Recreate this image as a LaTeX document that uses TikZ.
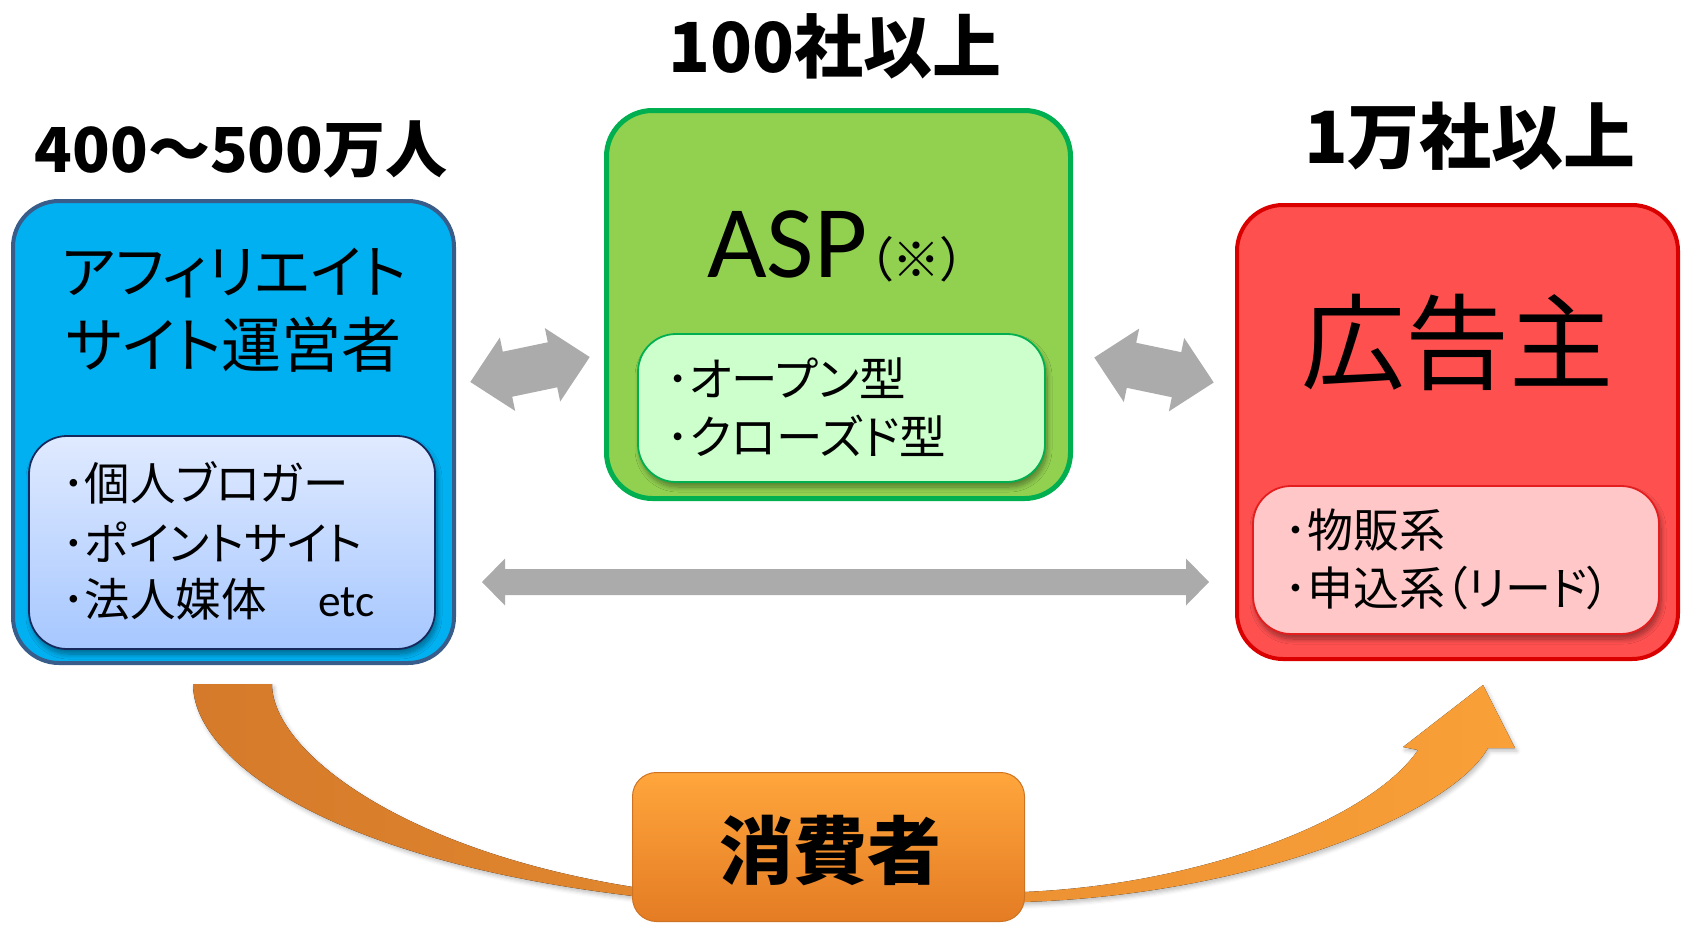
\documentclass[tikz,border=0pt]{standalone}
\usepackage{fontspec}
\setmainfont{Carlito}
\newfontfamily\jp[RawFeature=+palt]{Noto Sans CJK JP}
\usetikzlibrary{shadows.blur}
\definecolor{bluefill}{RGB}{0,176,240}
\definecolor{blueline}{RGB}{56,93,138}
\definecolor{blueinT}{RGB}{224,234,255}
\definecolor{blueinB}{RGB}{166,199,255}
\definecolor{bluein}{RGB}{22,40,92}
\definecolor{greenfill}{RGB}{146,208,80}
\definecolor{greenline}{RGB}{0,176,80}
\definecolor{greenin}{RGB}{204,255,204}
\definecolor{redfill}{RGB}{255,80,80}
\definecolor{redline}{RGB}{218,0,0}
\definecolor{redin}{RGB}{255,199,199}
\definecolor{redinline}{RGB}{228,30,30}
\definecolor{arrowgray}{RGB}{171,171,171}
\definecolor{orangeL}{RGB}{212,122,42}
\definecolor{orangeR}{RGB}{250,160,56}
\definecolor{consT}{RGB}{255,166,60}
\definecolor{consB}{RGB}{228,124,36}
\definecolor{consline}{RGB}{205,115,35}
\tikzset{
  outerbox/.style={inner sep=0pt, rounded corners=46pt},
  innerbox/.style={inner sep=0pt, rounded corners=38pt, line width=1.8pt,
    blur shadow={shadow xshift=2pt, shadow yshift=-5pt, shadow blur radius=5pt, shadow blur steps=10, shadow opacity=40}},
  title/.style={inner sep=0pt, font=\jp\bfseries\fontsize{69}{69}\selectfont},
  listtext/.style={inner sep=0pt, anchor=west, font=\jp\fontsize{45.5}{45.5}\selectfont},
  pics/dblarrow/.style n args={4}{code={
    \fill[arrowgray] (-#1,0) -- (-#1+#2,-#4) -- (-#1+#2,-#3) -- (#1-#2,-#3) -- (#1-#2,-#4) -- (#1,0)
      -- (#1-#2,#4) -- (#1-#2,#3) -- (-#1+#2,#3) -- (-#1+#2,#4) -- cycle;
  }}
}
\begin{document}
\begin{tikzpicture}[x=1pt,y=-1pt]
\useasboundingbox (0,0) rectangle (1683,924);

% titles
\node[title, font=\jp\bfseries\fontsize{62}{62}\selectfont] (t1) at (241,149) {400〜500万人};
\node[title] (t2) at (835,46) {100社以上};
\node[title, font=\jp\bfseries\fontsize{72}{72}\selectfont] (t3) at (1470,136) {1万社以上};

% affiliate box
\node[outerbox, draw=blueline, line width=4pt, fill=bluefill, minimum width=441pt, minimum height=462pt] (aff) at (233.5,432) {};
\node[inner sep=0pt, font=\jp\fontsize{58}{58}\selectfont] (afft1) at (234,273) {アフィリエイト};
\node[inner sep=0pt, font=\jp\fontsize{60}{60}\selectfont] (afft2) at (234,345) {サイト運営者};
\node[innerbox, draw=bluein, top color=blueinT, bottom color=blueinB, minimum width=406pt, minimum height=213pt] (affsub) at (232,542.5) {};
\node[listtext] (a1) at (62,483) {･個人ブロガー};
\node[listtext] (a2) at (62,542) {･ポイントサイト};
\node[listtext] (a3) at (62,599) {･法人媒体　\hspace{6pt}\fontspec{Carlito}etc};

% ASP box
\node[outerbox, draw=greenline, line width=5pt, fill=greenfill, minimum width=464pt, minimum height=388pt] (asp) at (838.5,304.5) {};
\node[inner sep=0pt, anchor=base west, font=\fontsize{103}{103}\selectfont] (asptxt) at (707,277) {ASP};
\node[inner sep=0pt, anchor=base west, font=\jp\fontsize{48}{48}\selectfont] (aspnote) at ([xshift=1pt]asptxt.base east) {（※）};
\node[innerbox, draw=greenline, fill=greenin, minimum width=407pt, minimum height=148pt] (aspsub) at (841.5,408) {};
\node[listtext, font=\jp\fontsize{46.5}{46.5}\selectfont] (g1) at (666,378) {･オープン型};
\node[listtext, font=\jp\fontsize{46.5}{46.5}\selectfont] (g2) at (666,436) {･クローズド型};

% advertiser box
\node[outerbox, draw=redline, line width=4pt, fill=redfill, minimum width=441pt, minimum height=454pt] (adv) at (1457.5,432) {};
\node[inner sep=0pt, font=\jp\fontsize{104}{104}\selectfont] (advtxt) at (1457,342) {広告主};
\node[innerbox, draw=redinline, fill=redin, minimum width=406pt, minimum height=148pt] (advsub) at (1456,560) {};
\node[listtext, font=\jp\fontsize{46}{46}\selectfont] (r1) at (1284,530) {･物販系};
\node[listtext, font=\jp\fontsize{46}{46}\selectfont] (r2) at (1284,588) {･申込系（リード）};

% gray arrows
\pic[rotate=11.8] (ga1) at (530,369.5) {dblarrow={61}{38}{23}{37.5}};
\pic[rotate=-11.8] (ga2) at (1154,370) {dblarrow={61}{38}{23}{37.5}};
\pic (ga3) at (845.5,582) {dblarrow={363.5}{23}{13}{23.5}};

% orange curved arrow
\fill[left color=orangeL, right color=orangeR,
  blur shadow={shadow xshift=2pt, shadow yshift=-3pt, shadow blur radius=4pt, shadow opacity=25}]
  (193,684) -- (272,684) .. controls (272,750) and (400,850) .. (633,887)
  -- (1023,892) .. controls (1200,885) and (1370,820) .. (1418,750)
  -- (1403,747) -- (1483,685) -- (1515,748) -- (1488,748)
  .. controls (1450,815) and (1250,895) .. (1023,902)
  -- (633,896) .. controls (330,860) and (193,760) .. (193,684) -- cycle;

% consumer box
\node[inner sep=0pt, rounded corners=24pt, draw=consline, line width=1pt, top color=consT, bottom color=consB,
  minimum width=392pt, minimum height=149pt] (cons) at (828.5,847) {};
\node[inner sep=0pt, font=\jp\bfseries\fontsize{74}{74}\selectfont] (constxt) at (830,850) {消費者};
\end{tikzpicture}
\end{document}
